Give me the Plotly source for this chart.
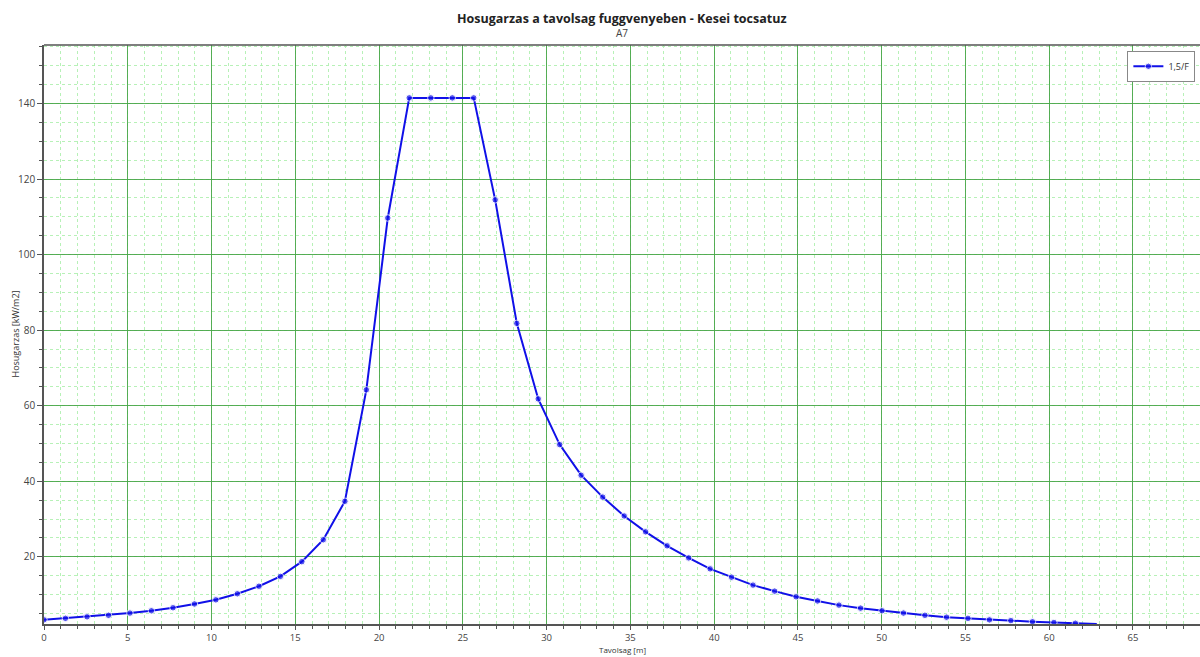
import plotly.graph_objects as go

distance_m = [0.0, 1.28, 2.57, 3.85, 5.13, 6.41, 7.70, 8.98, 10.26, 11.54, 12.83, 14.11,
              15.39, 16.67, 17.96, 19.24, 20.52, 21.80, 23.09, 24.37, 25.65, 26.93,
              28.22, 29.50, 30.78, 32.06, 33.35, 34.63, 35.91, 37.19, 38.48, 39.76,
              41.04, 42.32, 43.61, 44.89, 46.17, 47.45, 48.74, 50.02, 51.30, 52.58,
              53.87, 55.15, 56.43, 57.71, 59.00, 60.28, 61.56, 62.84]
heat_kw_m2 = [3.3, 3.7, 4.1, 4.5, 5.1, 5.7, 6.5, 7.5, 8.6, 10.2, 12.2, 14.8,
              18.7, 24.5, 34.7, 64.2, 109.7, 141.5, 141.5, 141.5, 141.5, 114.5,
              81.8, 61.8, 49.7, 41.6, 35.8, 30.8, 26.6, 22.9, 19.7, 16.8,
              14.6, 12.5, 10.9, 9.4, 8.3, 7.2, 6.4, 5.7, 5.1, 4.5,
              4.0, 3.7, 3.3, 3.1, 2.8, 2.6, 2.4, 2.2]
series_name = "1,5/F"
x_ticks = [0, 5, 10, 15, 20, 25, 30, 35, 40, 45, 50, 55, 60, 65]
y_ticks = [20, 40, 60, 80, 100, 120, 140]

sizes = [6.5] * (len(distance_m) - 1) + [0]

fig = go.Figure()
fig.add_trace(go.Scatter(
    x=distance_m, y=heat_kw_m2, name=series_name, mode="lines+markers",
    line=dict(color="#1010e8", width=2),
    marker=dict(color="#1010e8", size=sizes),
    showlegend=True,
))

major = "rgba(70,165,70,0.9)"
minor = "rgba(175,240,175,0.9)"
axis_common = dict(
    showline=True, linecolor="#555555", linewidth=1.5, mirror=False,
    ticks="outside", tickcolor="#555555",
    showgrid=True, gridcolor=major, gridwidth=1.2, zeroline=False,
)

plot_h = 657 - 45 - 33

fig.update_layout(
    width=1200, height=657,
    margin=dict(l=44, r=0, t=45, b=33),
    paper_bgcolor="white", plot_bgcolor="white",
    xaxis=dict(
        range=[0, 69], tickvals=x_ticks, ticklen=4, **axis_common,
        tickfont=dict(family="Open Sans", size=9.5, color="#444444"),
        minor=dict(dtick=1, showgrid=True, gridcolor=minor, griddash="dot", gridwidth=1,
                   ticks="outside", ticklen=3, tickcolor="#555555"),
    ),
    yaxis=dict(
        range=[2.2, 155.5], tickvals=y_ticks, ticklen=5, **axis_common,
        tickfont=dict(family="Open Sans", size=10, color="#444444"),
        minor=dict(dtick=5, tick0=0, showgrid=True, gridcolor=minor, griddash="dot", gridwidth=1,
                   ticks="outside", ticklen=3, tickcolor="#555555"),
    ),
    legend=dict(
        x=0.996, xanchor="right", y=0.99, yanchor="top",
        bgcolor="white", bordercolor="#888888", borderwidth=1,
        font=dict(family="Open Sans", size=9, color="#333333"),
        itemwidth=30,
    ),
    shapes=[dict(type="line", xref="paper", yref="paper", x0=0, x1=1, y0=1, y1=1,
                 line=dict(color="#555555", width=1.5))],
    annotations=[
        dict(text="<b>Hosugarzas a tavolsag fuggvenyeben - Kesei tocsatuz</b>",
             xref="paper", yref="paper", x=0.5, y=1 + 27 / plot_h, xanchor="center", yanchor="middle",
             showarrow=False, font=dict(family="Open Sans", size=12.5, color="#222222")),
        dict(text="A7", xref="paper", yref="paper", x=0.5, y=1 + 12 / plot_h,
             xanchor="center", yanchor="middle", showarrow=False,
             font=dict(family="Open Sans", size=10, color="#444444")),
        dict(text="Tavolsag [m]", xref="paper", yref="paper", x=0.5, y=-33 / plot_h,
             xanchor="center", yanchor="bottom", showarrow=False,
             font=dict(family="Open Sans", size=8, color="#333333")),
        dict(text="Hosugarzas [kW/m2]", xref="paper", yref="paper", x=-29 / 1156, y=0.5,
             xanchor="center", yanchor="middle", showarrow=False, textangle=-90,
             font=dict(family="Open Sans", size=9, color="#333333")),
    ],
)

fig.write_html("out.html")
